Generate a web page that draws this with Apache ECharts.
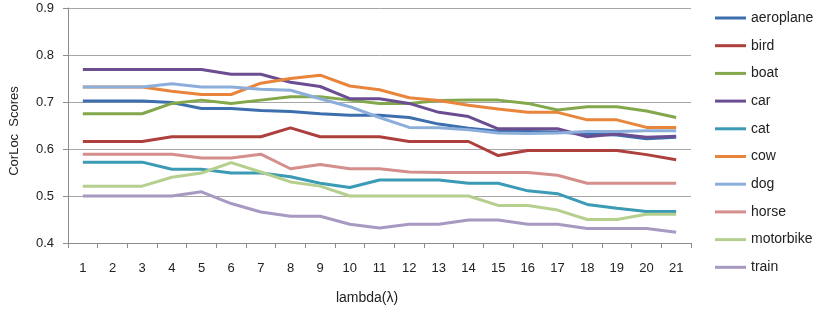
<!DOCTYPE html>
<html><head><meta charset="utf-8">
<script src="https://cdn.jsdelivr.net/npm/echarts@6/dist/echarts.min.js"></script>
<style>html,body{margin:0;padding:0;background:#fff}#c{width:830px;height:310px}</style>
</head><body><div id="c"></div>
<script>
var categories = ['1','2','3','4','5','6','7','8','9','10','11','12','13','14','15','16','17','18','19','20','21'];
var yTicks = [0.4, 0.9, 0.1];
var aeroplane = [0.702,0.702,0.702,0.699,0.686,0.686,0.682,0.680,0.675,0.672,0.672,0.667,0.653,0.644,0.638,0.637,0.636,0.632,0.630,0.622,0.625];
var bird = [0.616,0.616,0.616,0.626,0.626,0.626,0.626,0.645,0.626,0.626,0.626,0.616,0.616,0.616,0.586,0.597,0.597,0.597,0.597,0.588,0.577];
var boat = [0.675,0.675,0.675,0.697,0.704,0.697,0.704,0.711,0.711,0.704,0.697,0.697,0.703,0.704,0.704,0.697,0.683,0.690,0.690,0.681,0.667];
var car = [0.769,0.769,0.769,0.769,0.769,0.759,0.759,0.742,0.733,0.707,0.707,0.697,0.678,0.669,0.643,0.643,0.643,0.626,0.632,0.625,0.627];
var cat = [0.572,0.572,0.572,0.557,0.557,0.549,0.549,0.541,0.527,0.518,0.534,0.534,0.534,0.527,0.527,0.511,0.505,0.482,0.474,0.467,0.467];
var cow = [0.732,0.732,0.732,0.723,0.716,0.716,0.740,0.750,0.757,0.734,0.726,0.709,0.703,0.693,0.685,0.678,0.678,0.662,0.662,0.646,0.646];
var dog = [0.732,0.732,0.732,0.739,0.732,0.732,0.727,0.725,0.707,0.690,0.667,0.646,0.645,0.641,0.634,0.633,0.634,0.637,0.637,0.639,0.639];
var horse = [0.589,0.589,0.589,0.589,0.581,0.581,0.589,0.558,0.567,0.558,0.558,0.551,0.550,0.550,0.550,0.550,0.544,0.527,0.527,0.527,0.527];
var motorbike = [0.521,0.521,0.521,0.540,0.549,0.571,0.551,0.530,0.521,0.500,0.500,0.500,0.500,0.500,0.480,0.480,0.470,0.450,0.450,0.461,0.461];
var train = [0.500,0.500,0.500,0.500,0.509,0.484,0.466,0.457,0.457,0.440,0.432,0.440,0.440,0.449,0.449,0.440,0.440,0.431,0.431,0.431,0.423];

var seriesNames = ['aeroplane','bird','boat','car','cat','cow','dog','horse','motorbike','train'];
var seriesData = [aeroplane,bird,boat,car,cat,cow,dog,horse,motorbike,train];
var colors = ['#3D6EAD','#AD3F3C','#82A84B','#6B4E91','#3B9AB4','#E8853B','#8CAEDA','#D48F8D','#B5CF8E','#A899C3'];

var font = 'Liberation Sans, Arial, sans-serif';
var chart = echarts.init(document.getElementById('c'), null, {renderer:'canvas'});
chart.setOption({
  animation: false,
  color: colors,
  textStyle: {fontFamily: font},
  grid: {left: 68, right: 139, top: 8, bottom: 65, containLabel: false},
  legend: {
    orient: 'vertical', left: 715, top: 11, padding: 0,
    icon: 'rect', itemWidth: 31, itemHeight: 3, itemGap: 13.7,
    textStyle: {fontSize: 14, lineHeight: 14, color: '#222', fontFamily: font},
    data: seriesNames
  },
  xAxis: {
    type: 'category', data: categories, boundaryGap: true,
    axisLine: {lineStyle: {color: '#8c8c8c', width: 1}},
    axisTick: {show: true, length: 5, alignWithLabel: false, lineStyle: {color: '#8c8c8c'}},
    axisLabel: {fontSize: 13, color: '#222', margin: 19, fontFamily: font},
    name: 'lambda(\u03bb)', nameLocation: 'middle', nameGap: 48,
    nameTextStyle: {fontSize: 14, color: '#222', padding: [0, 25, 0, 0], fontFamily: font}
  },
  yAxis: {
    type: 'value', min: yTicks[0], max: yTicks[1], interval: yTicks[2],
    axisLine: {show: true, lineStyle: {color: '#8c8c8c', width: 1}},
    axisTick: {show: true, length: 5, lineStyle: {color: '#8c8c8c'}},
    axisLabel: {fontSize: 13, color: '#222', margin: 14, fontFamily: font, formatter: function(v){return v.toFixed(1);}},
    splitLine: {show: true, lineStyle: {color: '#a6a6a6', width: 1}},
    name: 'CorLoc  Scores', nameLocation: 'middle', nameGap: 47, nameRotate: 90,
    nameTextStyle: {fontSize: 13, color: '#222', padding: [0, 11, 0, 0], fontFamily: font}
  },
  series: seriesNames.map(function(n, i){
    return {
      name: n, type: 'line', data: seriesData[i],
      symbol: 'none', showSymbol: false,
      lineStyle: {width: 3, color: colors[i]},
      itemStyle: {color: colors[i]}
    };
  })
});
</script>
</body></html>
